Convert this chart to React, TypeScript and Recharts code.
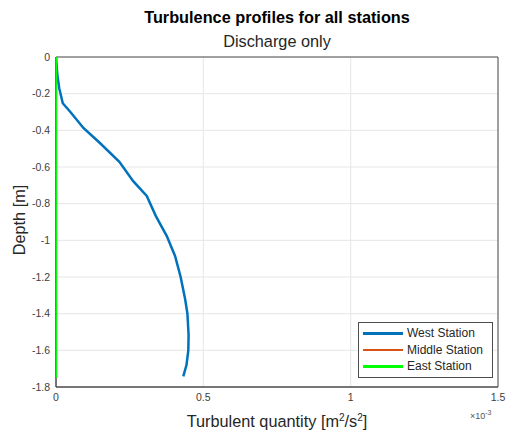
import {
  ScatterChart,
  Scatter,
  XAxis,
  YAxis,
  CartesianGrid,
  ReferenceArea
} from "recharts"

// turbulent quantity in units of 1e-3 m^2/s^2, depth in m
const westX = [0, 0.0045, 0.011, 0.023, 0.0475, 0.093, 0.149, 0.215, 0.262, 0.308, 0.339, 0.376, 0.404, 0.423, 0.438, 0.446, 0.45, 0.449, 0.443, 0.432]
const westDepth = [0, -0.098, -0.17, -0.252, -0.297, -0.387, -0.469, -0.572, -0.677, -0.758, -0.868, -0.977, -1.085, -1.2, -1.319, -1.4, -1.517, -1.6, -1.679, -1.742]

const middleX = [0, 0, 0, 0, 0, 0, 0, 0]
const middleDepth = [0, -0.25, -0.5, -0.75, -1, -1.25, -1.5, -1.75]

const eastX = [0, 0, 0, 0, 0, 0, 0, 0]
const eastDepth = [0, -0.25, -0.5, -0.75, -1, -1.25, -1.5, -1.75]

const xTicks = [0, 0.5, 1, 1.5]
const yTicks = [-1.8, -1.6, -1.4, -1.2, -1, -0.8, -0.6, -0.4, -0.2, 0]

const toPoints = (xs: number[], ds: number[]) =>
  xs.map((x, i) => ({ x, depth: ds[i] }))

const series = [
  { name: "West Station", color: "#0072BD", width: 2.5, data: toPoints(westX, westDepth) },
  { name: "Middle Station", color: "#D95319", width: 2, data: toPoints(middleX, middleDepth) },
  { name: "East Station", color: "#00FF00", width: 2.5, data: toPoints(eastX, eastDepth) }
]

const font = "'Liberation Sans', Arial, sans-serif"
const tickStyle = { fontSize: 10.5, fill: "#404040", fontFamily: font }
const axisColor = "#4d4d4d"

function LegendBox() {
  return (
    <div
      style={{
        position: "absolute",
        left: 358,
        top: 322,
        width: 129,
        border: `1px solid ${axisColor}`,
        background: "#fff",
        padding: "2px 0 2px 4px",
        fontSize: 12,
        color: "#262626"
      }}
    >
      {series.map((s) => (
        <div
          key={s.name}
          style={{ display: "flex", alignItems: "center", height: 16.5 }}
        >
          <div
            style={{
              width: 40,
              height: s.width,
              background: s.color,
              marginRight: 4
            }}
          />
          {s.name}
        </div>
      ))}
    </div>
  )
}

export default function App() {
  return (
    <div
      style={{
        position: "absolute",
        left: 0,
        top: 0,
        width: 506,
        height: 433,
        background: "#fff",
        fontFamily: font
      }}
    >
      <ScatterChart
        width={506}
        height={433}
        margin={{ top: 57, right: 8, bottom: 0, left: 0 }}
      >
        <CartesianGrid stroke="#e6e6e6" />
        <XAxis
          type="number"
          dataKey="x"
          domain={[0, 1.5]}
          ticks={xTicks}
          height={46}
          tick={tickStyle}
          tickLine={false}
          tickSize={0}
          tickMargin={7}
          stroke={axisColor}
          allowDataOverflow
        />
        <YAxis
          type="number"
          dataKey="depth"
          domain={[-1.8, 0]}
          ticks={yTicks}
          width={56}
          tick={tickStyle}
          tickLine={false}
          tickSize={0}
          tickMargin={6}
          stroke={axisColor}
          allowDataOverflow
        />
        <ReferenceArea
          x1={0}
          x2={1.5}
          y1={-1.8}
          y2={0}
          fill="none"
          stroke={axisColor}
          strokeWidth={1}
        />
        {series.map((s) => (
          <Scatter
            key={s.name}
            name={s.name}
            data={s.data}
            fill={s.color}
            line={{ stroke: s.color, strokeWidth: s.width }}
            lineType="joint"
            shape={() => <g />}
            legendType="line"
            isAnimationActive={false}
          />
        ))}
      </ScatterChart>

      <LegendBox />

      <div
        style={{
          position: "absolute",
          left: 56,
          width: 442,
          top: 8,
          textAlign: "center",
          fontWeight: "bold",
          fontSize: 16.3,
          lineHeight: "19px",
          color: "#000"
        }}
      >
        Turbulence profiles for all stations
      </div>
      <div
        style={{
          position: "absolute",
          left: 56,
          width: 442,
          top: 32,
          textAlign: "center",
          fontSize: 16.3,
          lineHeight: "19px",
          color: "#262626"
        }}
      >
        Discharge only
      </div>
      <div
        style={{
          position: "absolute",
          left: 56,
          width: 442,
          top: 412,
          textAlign: "center",
          fontSize: 16.3,
          lineHeight: "19px",
          color: "#262626"
        }}
      >
        Turbulent quantity [m<sup style={{ fontSize: 10, lineHeight: 0 }}>2</sup>/s
        <sup style={{ fontSize: 10, lineHeight: 0 }}>2</sup>]
      </div>
      <div
        style={{
          position: "absolute",
          left: 470,
          top: 410,
          fontSize: 9,
          lineHeight: "12px",
          color: "#555"
        }}
      >
        ×10<sup style={{ fontSize: 7, lineHeight: 0 }}>-3</sup>
      </div>
      <div
        style={{
          position: "absolute",
          left: 19,
          top: 220,
          transform: "translate(-50%, -50%) rotate(-90deg)",
          whiteSpace: "nowrap",
          fontSize: 16.3,
          color: "#262626"
        }}
      >
        Depth [m]
      </div>
    </div>
  )
}
